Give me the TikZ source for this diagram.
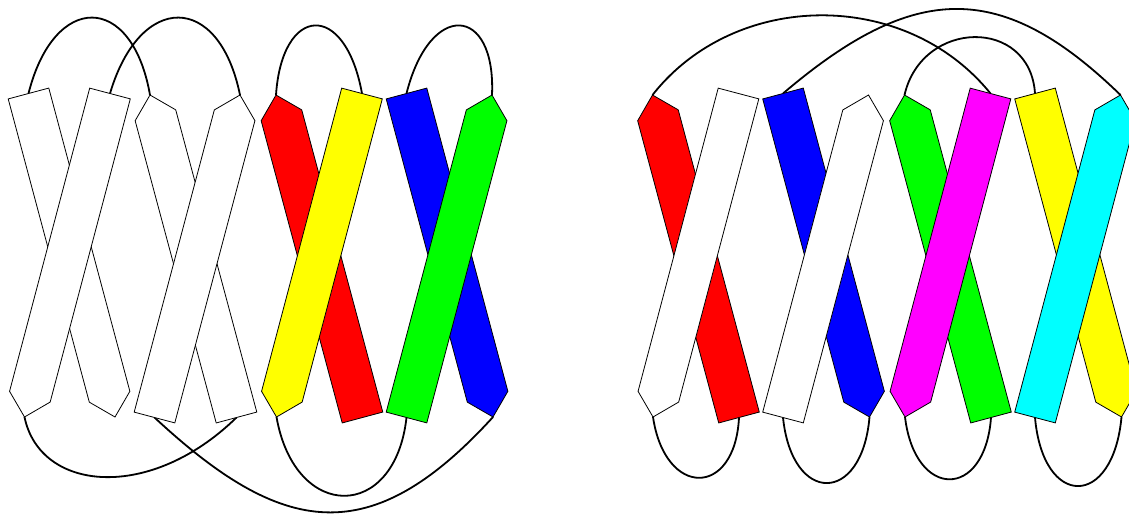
\documentclass[tikz,border=0pt]{standalone}
\usetikzlibrary{calc}
\definecolor{cRed}{RGB}{255,0,0}
\definecolor{cYellow}{RGB}{255,255,0}
\definecolor{cBlue}{RGB}{0,0,255}
\definecolor{cGreen}{RGB}{0,255,0}
\definecolor{cMagenta}{RGB}{255,0,255}
\definecolor{cCyan}{RGB}{0,255,255}
\newcommand{\bstrand}[4]{%
  \coordinate (#4m) at ($(#3)!21pt!(#2)$);
  \filldraw[strandline, fill=#1] ($(#2)!21pt!90:(#3)$) -- ($(#4m)!21pt!90:(#3)$) -- (#3) -- ($(#4m)!21pt!-90:(#3)$) -- ($(#2)!21pt!-90:(#3)$) -- cycle;
}
\begin{document}
\begin{tikzpicture}[x=1pt,y=-1pt,
  conn/.style={line width=1.8pt},
  strandline/.style={line width=0.8pt, line join=miter}]
\useasboundingbox (0,0) rectangle (1129,515);
\clip (0,0) rectangle (1129,515);
% strand ends
\coordinate (At) at (28.5,93.5);  \coordinate (Ab) at (115,417);
\coordinate (Bt) at (110,93.5);   \coordinate (Bb) at (24.5,417);
\coordinate (Ct) at (150,95);     \coordinate (Cb) at (236.5,417.5);
\coordinate (Dt) at (240,95);     \coordinate (Db) at (154.5,417.5);
\coordinate (Et) at (276,95);     \coordinate (Eb) at (362.5,417.5);
\coordinate (Ft) at (362,93.5);   \coordinate (Fb) at (276.5,417);
\coordinate (Gt) at (406.5,93.5); \coordinate (Gb) at (493,417);
\coordinate (Ht) at (492,95);     \coordinate (Hb) at (406.5,417.5);
\coordinate (It) at (652.5,95);   \coordinate (Ib) at (739,417.5);
\coordinate (Jt) at (738.5,93.5); \coordinate (Jb) at (653,417);
\coordinate (Kt) at (783,93.5);   \coordinate (Kb) at (869.5,417);
\coordinate (Lt) at (868.5,95);   \coordinate (Lb) at (783,417.5);
\coordinate (Mt) at (904.5,95);   \coordinate (Mb) at (991,417.5);
\coordinate (Nt) at (990.5,93.5); \coordinate (Nb) at (905,417);
\coordinate (Ot) at (1035,93.5);  \coordinate (Ob) at (1121.5,417);
\coordinate (Pt) at (1120.5,95);  \coordinate (Pb) at (1035,417.5);
% connecting loops
\draw[conn] (At) .. controls +(25.5,-101.5) and +(-18,-103) .. (Ct);
\draw[conn] (Bt) .. controls +(30,-101.5) and +(-21,-103) .. (Dt);
\draw[conn] (Et) .. controls +(6,-90) and +(-17,-93.5) .. (Ft);
\draw[conn] (Gt) .. controls +(23.5,-93.5) and +(4,-90) .. (Ht);
\draw[conn] (Bb) .. controls +(15.5,75) and +(-86.5,84.5) .. (Cb);
\draw[conn] (Db) .. controls +(127.5,118.5) and +(-123,135) .. (Gb);
\draw[conn] (Fb) .. controls +(18.5,105) and +(-11.5,104.5) .. (Hb);
\draw[conn] (It) .. controls +(82.5,-105) and +(-85.5,-105.5) .. (Nt);
\draw[conn] (Kt) .. controls +(132,-112.5) and +(-118.5,-115) .. (Pt);
\draw[conn] (Mt) .. controls +(17.5,-76) and +(-5,-76.5) .. (Ot);
\draw[conn] (Jb) .. controls +(12,81) and +(-4,80.5) .. (Ib);
\draw[conn] (Lb) .. controls +(9,87.5) and +(-7.5,88) .. (Kb);
\draw[conn] (Nb) .. controls +(10,83) and +(-6,82.5) .. (Mb);
\draw[conn] (Pb) .. controls +(8,91.5) and +(-8.5,92) .. (Ob);
% strands: \bstrand{fill}{square end}{pointed end}{name}
\bstrand{white}{At}{Ab}{A}
\bstrand{white}{Bt}{Bb}{B}
\bstrand{white}{Cb}{Ct}{C}
\bstrand{white}{Db}{Dt}{D}
\bstrand{cRed}{Eb}{Et}{E}
\bstrand{cYellow}{Ft}{Fb}{F}
\bstrand{cBlue}{Gt}{Gb}{G}
\bstrand{cGreen}{Hb}{Ht}{H}
\bstrand{cRed}{Ib}{It}{I}
\bstrand{white}{Jt}{Jb}{J}
\bstrand{cBlue}{Kt}{Kb}{K}
\bstrand{white}{Lb}{Lt}{L}
\bstrand{cGreen}{Mb}{Mt}{M}
\bstrand{cMagenta}{Nt}{Nb}{N}
\bstrand{cYellow}{Ot}{Ob}{O}
\bstrand{cCyan}{Pb}{Pt}{P}
\end{tikzpicture}
\end{document}
